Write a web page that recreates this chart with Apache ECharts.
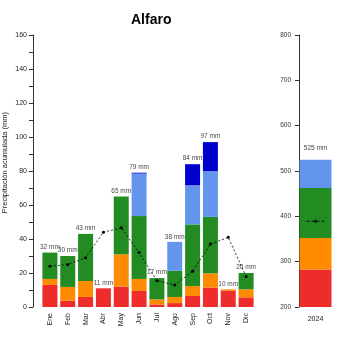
<!DOCTYPE html>
<html><head><meta charset="utf-8">
<script src="https://cdn.jsdelivr.net/npm/echarts@6/dist/echarts.min.js"></script>
<style>html,body{margin:0;padding:0;background:#fff}#c{width:350px;height:350px}</style>
</head><body><div id="c"></div>
<script>
const months = ["Ene","Feb","Mar","Abr","May","Jun","Jul","Ago","Sep","Oct","Nov","Dic"];
const red    = [13, 3.7, 5.9, 11, 12, 9.4, 1.5, 2.3, 6.5, 11.4, 9.6, 5.7];
const orange = [3.5, 8.1, 9.4, 0, 19, 7.1, 3, 3.6, 5.8, 8.4, 0.8, 4.7];
const green  = [15.5, 18.2, 27.7, 0, 34, 37, 12.5, 15.4, 36.3, 33.2, 0, 9.6];
const lblue  = [0, 0, 0, 0, 0, 25, 0, 17, 23, 27, 0, 0];
const dblue  = [0, 0, 0, 0, 0, 0.5, 0, 0, 12.4, 17, 0, 0];
const totals = [32, 30, 43, 11, 65, 79, 17, 38, 84, 97, 10, 20];
const meanLine = [24, 25, 29, 44, 46.6, 32, 15.5, 13, 21, 37, 41, 18];
const yearCat = ["2024"];
const yRed = [282.5], yOrange = [69.5], yGreen = [110.5], yLblue = [62.5];
const yTotal = 525, yMean = 389;

const C = {red:'#EE2C2C', orange:'#FF8C00', green:'#228B22', lblue:'#6495ED', dblue:'#0000CD'};
const F = 'Liberation Sans, Arial, sans-serif';
const chart = echarts.init(document.getElementById('c'), null, {renderer:'canvas'});
function bar(name, data, color, xi) {
  return {type:'bar', name, data, stack: 's'+xi, xAxisIndex:xi, yAxisIndex:xi,
    barWidth: xi===0 ? 15 : 32, itemStyle:{color}, animation:false, silent:true};
}
const dashPath = 'path://M0,0h3v1h-3z M5,0h3v1h-3z M10,0h3v1h-3z M15,0h3v1h-3z';
chart.setOption({
  animation:false,
  title:{text:'Alfaro', left:126, top:8, textStyle:{fontFamily:F, fontSize:14, fontWeight:'bold', color:'#000'}},
  grid:[{left:41, top:35, width:214, height:272}, {left:299, top:35, width:33, height:272}],
  xAxis:[
    {type:'category', data:months, gridIndex:0, axisLine:{show:false}, axisTick:{show:false},
     axisLabel:{rotate:90, fontSize:7, fontFamily:F, color:'#222', margin:6, interval:0}},
    {type:'category', data:yearCat, gridIndex:1, axisLine:{show:false}, axisTick:{show:false},
     axisLabel:{fontSize:7, fontFamily:F, color:'#222', margin:9}}
  ],
  yAxis:[
    {type:'value', gridIndex:0, min:0, max:160, interval:10, offset:8, splitLine:{show:false},
     axisLine:{show:true, lineStyle:{color:'#333', width:1}}, axisTick:{show:true, length:4, lineStyle:{color:'#333'}},
     axisLabel:{fontSize:7, fontFamily:F, color:'#222', margin:6, formatter:v => v%20===0 ? String(v) : ''}},
    {type:'value', gridIndex:1, min:200, max:800, interval:100, splitLine:{show:false},
     axisLine:{show:true, lineStyle:{color:'#333', width:1}}, axisTick:{show:true, length:4, lineStyle:{color:'#333'}},
     axisLabel:{fontSize:6.5, fontFamily:F, color:'#333', margin:8}}
  ],
  graphic:[{type:'text', left:1, top:112, rotation:Math.PI/2, style:{text:'Precipitación acumulada (mm)', fontSize:7.5, fontFamily:F, fill:'#222'}}],
  series:[
    bar('r', red, C.red, 0), bar('o', orange, C.orange, 0), bar('g', green, C.green, 0),
    bar('lb', lblue, C.lblue, 0), bar('db', dblue, C.dblue, 0),
    {type:'scatter', data:totals, xAxisIndex:0, yAxisIndex:0, symbolSize:0, silent:true,
     label:{show:true, position:'top', distance:2, formatter:p => p.value + ' mm', fontSize:6.5, fontFamily:F, color:'#111'}},
    {type:'line', data:meanLine, xAxisIndex:0, yAxisIndex:0, symbol:'circle', symbolSize:3, silent:true,
     itemStyle:{color:'#000'}, lineStyle:{color:'#000', width:0.8, type:[2,2]}},
    bar('r2', yRed, C.red, 1), bar('o2', yOrange, C.orange, 1), bar('g2', yGreen, C.green, 1), bar('lb2', yLblue, C.lblue, 1),
    {type:'scatter', data:[yTotal], xAxisIndex:1, yAxisIndex:1, symbolSize:0, silent:true,
     label:{show:true, position:'top', distance:8, formatter:p => p.value + ' mm', fontSize:6.5, fontFamily:F, color:'#111'}},
    {type:'scatter', data:[yMean], xAxisIndex:1, yAxisIndex:1, symbol:dashPath, symbolSize:[18,1], silent:true, itemStyle:{color:'#000'}},
    {type:'scatter', data:[yMean], xAxisIndex:1, yAxisIndex:1, symbol:'circle', symbolSize:3, silent:true, itemStyle:{color:'#000'}}
  ]
});
</script></body></html>
